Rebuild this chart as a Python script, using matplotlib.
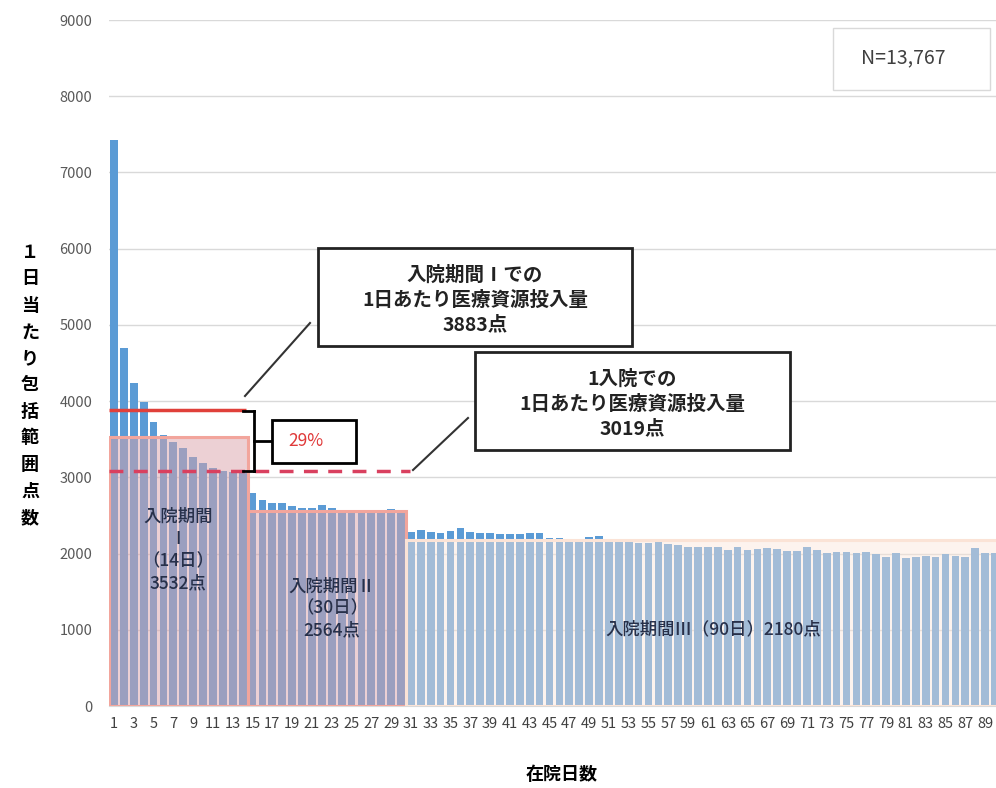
import matplotlib
matplotlib.use("Agg")
import matplotlib.pyplot as plt
from matplotlib.patches import Rectangle
from matplotlib.lines import Line2D

plt.rcParams["font.family"] = ["Noto Sans CJK JP", "DejaVu Sans"]

# daily inclusive points per day of stay (day 1 .. 90)
days = list(range(1, 91))
points = [
    7430, 4700, 4240, 3990, 3730, 3560, 3460, 3390, 3270, 3190,
    3120, 3085, 3070, 3060, 2790, 2700, 2660, 2660, 2630, 2600,
    2600, 2640, 2595, 2575, 2570, 2570, 2570, 2570, 2585, 2570,
    2285, 2310, 2285, 2270, 2300, 2335, 2285, 2275, 2275, 2255,
    2255, 2255, 2270, 2265, 2205, 2200, 2180, 2180, 2215, 2230,
    2180, 2150, 2150, 2140, 2140, 2150, 2130, 2110, 2090, 2090,
    2085, 2090, 2050, 2085, 2050, 2055, 2075, 2060, 2040, 2040,
    2085, 2045, 2010, 2025, 2025, 2005, 2025, 2000, 1960, 2005,
    1940, 1950, 1965, 1950, 2000, 1965, 1960, 2075, 2005, 2005,
]

# hospitalisation periods
period_start = [1, 15, 31]
period_end = [14, 30, 90]
period_points = [3532, 2564, 2180]
period_labels = ["入院期間\nⅠ\n（14日）\n3532点",
                 "入院期間Ⅱ\n（30日）\n2564点",
                 "入院期間Ⅲ（90日）2180点"]

period1_avg = 3883
overall_avg = 3019
overall_avg_drawn = 3080
pct_diff = "29%"
n_label = "N=13,767"

W, H = 996, 788
fig = plt.figure(figsize=(W / 100, H / 100), dpi=100)
ax = fig.add_axes([109 / W, (H - 706) / H, (W - 109) / W, 686 / H])


def px(x, y):
    return x / W, 1 - y / H


def fig_box(left, top, right, bottom, **kw):
    x0, y1 = px(left, top)
    x1, y0 = px(right, bottom)
    fig.add_artist(Rectangle((x0, y0), x1 - x0, y1 - y0,
                             transform=fig.transFigure, **kw))


def fig_line(p0, p1, **kw):
    a, b = px(*p0)
    c, d = px(*p1)
    fig.add_artist(Line2D([a, c], [b, d], transform=fig.transFigure, **kw))


ax.bar(days, points, width=0.78, color="#5b9bd5", zorder=2)

# translucent period blocks
fills = ["#dba3ab", "#dba3ab", "#fbe6da"]
alphas = [0.5, 0.5, 0.45]
edges = ["#f2a59c", "#f2a59c", "#fbe3d6"]
for s, e, p, fc, a, ec in zip(period_start, period_end, period_points,
                              fills, alphas, edges):
    ax.bar(s - 0.5, p, width=e - s + 1, align="edge", color=fc, alpha=a,
           zorder=3)
    ax.bar(s - 0.5, p, width=e - s + 1, align="edge", facecolor="none",
           edgecolor=ec, linewidth=2.2, zorder=4)

label_pos = [((period_start[0] + period_end[0]) / 2, 2050),
             ((period_start[1] + period_end[1]) / 2 + 0.5, 1280),
             (61.5, 1000)]
for (x, y), t in zip(label_pos, period_labels):
    ax.text(x, y, t, ha="center", va="center", fontsize=12.5,
            color="#27304a", linespacing=1.3, fontweight="medium", zorder=5)

# average lines
ax.hlines(period1_avg, 0.5, 14.3, color="#e0403a", linewidth=2.5, zorder=6)
ax.hlines(overall_avg_drawn, 0.5, 30.9, color="#d9405f", linewidth=2.5,
          linestyles=(0, (4, 3)), zorder=6)

ax.set_xlim(0.5, 90.1)
ax.set_ylim(0, 9000)
ax.set_yticks(range(0, 9001, 1000))
ax.set_xticks(days[::2])
ax.set_xticklabels([str(d) for d in days[::2]], fontsize=10.5,
                   color="#404040")
ax.tick_params(axis="y", labelsize=10.5, labelcolor="#595959", length=0,
               pad=12)
ax.tick_params(axis="x", length=0, pad=8)
ax.grid(axis="y", color="#d9d9d9", linewidth=1, zorder=0)
ax.set_axisbelow(True)
for side in ["top", "right", "left"]:
    ax.spines[side].set_visible(False)
ax.spines["bottom"].set_color("#d9d9d9")

# bracket between the two averages
fig_line((243, 411), (254, 411), color="black", lw=2)
fig_line((254, 411), (254, 471), color="black", lw=2)
fig_line((243, 471), (254, 471), color="black", lw=2)
fig_line((254, 441), (271, 441), color="black", lw=2)
fig_box(272, 420, 356, 463, facecolor="white", edgecolor="black", lw=2)
fig.text(*px(306, 441), pct_diff, color="#e03a3a", fontsize=12.5,
         ha="center", va="center")

# callouts
fig_line((245, 396), (310, 323), color="#333333", lw=1.5)
fig_box(318, 248, 632, 346, facecolor="white", edgecolor="#222222", lw=2)
fig.text(*px(475, 300), f"入院期間Ⅰでの\n1日あたり医療資源投入量\n{period1_avg}点",
         ha="center", va="center", fontsize=14, fontweight="bold",
         linespacing=1.4, color="#222222")

fig_line((413, 470), (468, 418), color="#333333", lw=1.5)
fig_box(475, 352, 790, 450, facecolor="white", edgecolor="#222222", lw=2)
fig.text(*px(632, 404), f"1入院での\n1日あたり医療資源投入量\n{overall_avg}点",
         ha="center", va="center", fontsize=14, fontweight="bold",
         linespacing=1.4, color="#222222")

fig_box(833, 28, 990, 90, facecolor="white", edgecolor="#d9d9d9", lw=1)
fig.text(*px(903, 58), n_label, ha="center", va="center", fontsize=14,
         color="#404040")

# axis titles
fig.text(*px(30, 385), "\n".join("１日当たり包括範囲点数"), ha="center",
         va="center", fontsize=13, fontweight="bold", linespacing=1.5)
fig.text(*px(562, 775), "在院日数", ha="center", va="center", fontsize=13,
         fontweight="bold")

fig.savefig("out.png", dpi=100)
